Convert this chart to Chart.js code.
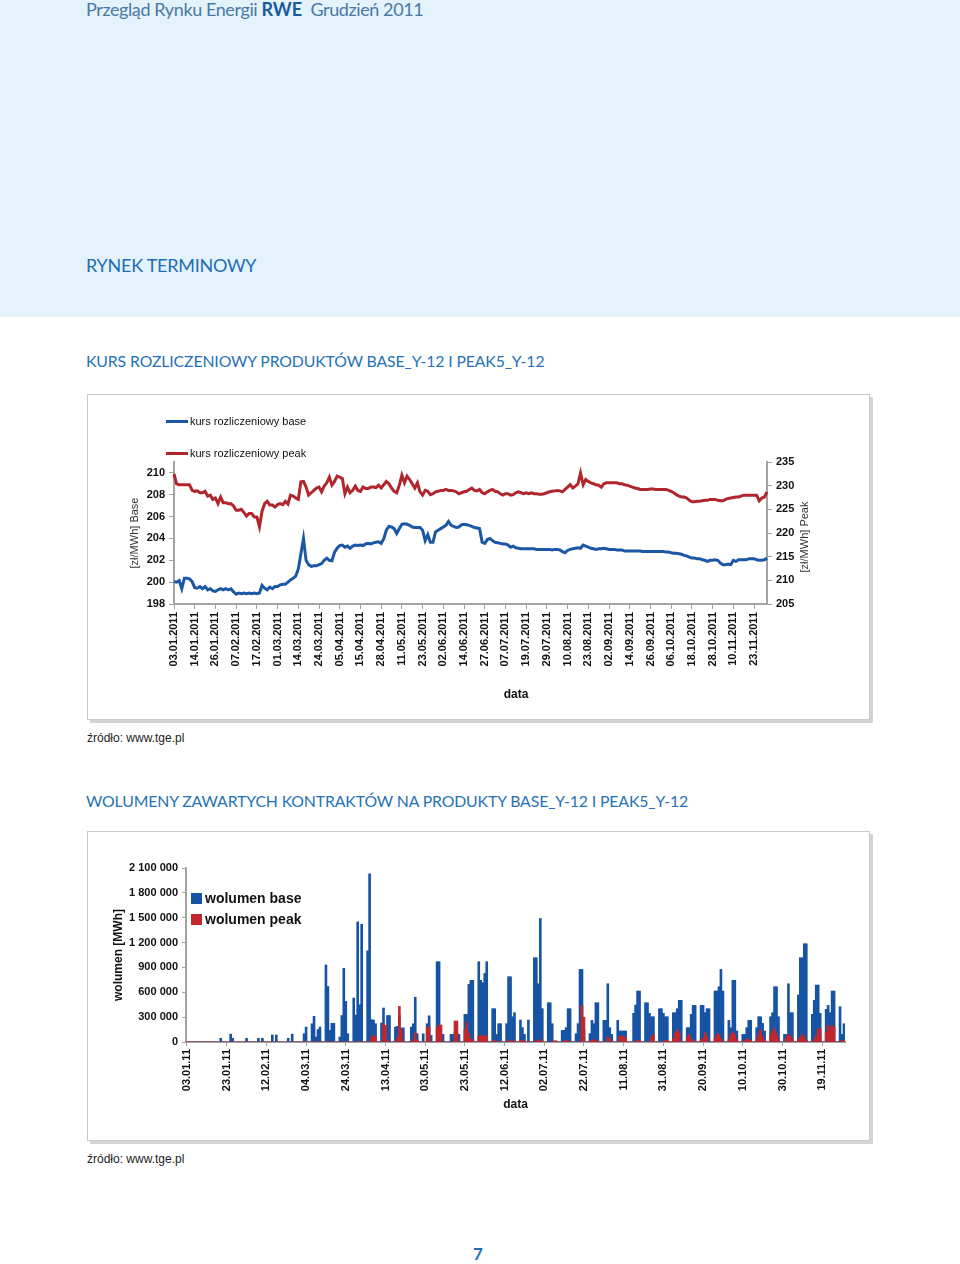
<!DOCTYPE html>
<html lang="pl">
<head>
<meta charset="utf-8">
<title>Przegląd Rynku Energii RWE - Grudzień 2011</title>
<script src="https://cdn.jsdelivr.net/npm/chart.js@4.4.1/dist/chart.umd.min.js"></script>
<style>
  html, body { margin: 0; padding: 0; }
  body { width: 960px; height: 1264px; position: relative; overflow: hidden; background: #fff;
         font-family: "Liberation Sans", Arial, sans-serif; }
  .band { position: absolute; left: 0; top: 0; width: 960px; height: 317px; background: #e3f2fb; }
  .hdr { position: absolute; left: 86px; top: 0px; font-family: Lato, sans-serif; font-size: 18px;
         line-height: 18px; letter-spacing: -0.4px; color: #4a79a5; white-space: nowrap; }
  .hdr b { color: #1a5a9c; font-weight: 700; letter-spacing: 0; }
  .h1 { position: absolute; left: 86px; top: 256px; font-family: Lato, sans-serif; font-size: 18px;
        line-height: 18px; letter-spacing: -0.25px; color: #1f6db4; white-space: nowrap; }
  .h2 { position: absolute; left: 86px; font-family: Lato, sans-serif; font-size: 15.8px;
        line-height: 16px; letter-spacing: -0.12px; color: #2572b8; white-space: nowrap; }
  .box { position: absolute; left: 87px; width: 781px; border: 1px solid #c9c9c9;
         box-shadow: 3px 3px 0 #d4d4d4; background: #fff; }
  .box canvas { display: block; }
  .src { position: absolute; left: 87px; font-size: 12px; line-height: 12px; color: #222; }
  .lg { position: absolute; font-size: 11px; line-height: 14px; color: #111; white-space: nowrap; }
  .lgline { position: absolute; width: 22px; height: 3px; }
  .lgbox { position: absolute; width: 11px; height: 11px; }
  .lg2 { position: absolute; font-size: 14px; line-height: 16px; font-weight: bold; color: #111; white-space: nowrap; }
  .pg { position: absolute; left: 473px; top: 1245px; font-family: Lato, sans-serif; font-size: 17px;
        line-height: 17px; font-weight: 700; color: #1f6db4; }
</style>
</head>
<body>
<div class="band"></div>
<div class="hdr">Przegląd Rynku Energii <b>RWE</b>&nbsp; Grudzień 2011</div>
<div class="h1">RYNEK TERMINOWY</div>

<div class="h2" style="top:353px">KURS ROZLICZENIOWY PRODUKTÓW BASE_Y-12 I PEAK5_Y-12</div>
<div class="box" style="top:394px;height:324px"><canvas id="kurs" width="781" height="324"></canvas></div>
<div class="lgline" style="left:166px;top:420px;background:#1b57a4"></div>
<div class="lg" style="left:190px;top:414px">kurs rozliczeniowy base</div>
<div class="lgline" style="left:166px;top:452px;background:#b0262c"></div>
<div class="lg" style="left:190px;top:446px">kurs rozliczeniowy peak</div>
<div class="src" style="top:732px">źródło: www.tge.pl</div>

<div class="h2" style="top:793px">WOLUMENY ZAWARTYCH KONTRAKTÓW NA PRODUKTY BASE_Y-12 I PEAK5_Y-12</div>
<div class="box" style="top:831px;height:308px"><canvas id="wolumen" width="781" height="308"></canvas></div>
<div class="lgbox" style="left:191px;top:893px;background:#1753a3"></div>
<div class="lg2" style="left:205px;top:890px">wolumen base</div>
<div class="lgbox" style="left:191px;top:914px;background:#c1272d"></div>
<div class="lg2" style="left:205px;top:911px">wolumen peak</div>
<div class="src" style="top:1153px">źródło: www.tge.pl</div>

<div class="pg">7</div>

<script>
// --- kurs rozliczeniowy (notowania dzienne) ---
const lineTickLabels = ['03.01.2011', '14.01.2011', '26.01.2011', '07.02.2011', '17.02.2011', '01.03.2011',
  '14.03.2011', '24.03.2011', '05.04.2011', '15.04.2011', '28.04.2011', '11.05.2011', '23.05.2011',
  '02.06.2011', '14.06.2011', '27.06.2011', '07.07.2011', '19.07.2011', '29.07.2011', '10.08.2011',
  '23.08.2011', '02.09.2011', '14.09.2011', '26.09.2011', '06.10.2011', '18.10.2011', '28.10.2011',
  '10.11.2011', '23.11.2011'];

// zł/MWh, lewa oś
const baseKurs = [
  200.05, 200.0, 200.15, 199.4, 200.35, 200.35, 200.3, 200.05, 199.5, 199.45,
  199.6, 199.4, 199.6, 199.3, 199.4, 199.2, 199.15, 199.3, 199.4, 199.3,
  199.4, 199.3, 199.4, 199.1, 198.9, 199.0, 198.95, 199.0, 198.95, 199.0,
  198.95, 199.0, 198.95, 199.0, 199.7, 199.45, 199.3, 199.55, 199.4, 199.6,
  199.6, 199.75, 199.8, 199.8, 200.0, 200.2, 200.35, 200.55, 201.2, 202.6,
  204.0, 202.0, 201.6, 201.45, 201.5, 201.5, 201.6, 201.7, 202.0, 202.2,
  202.0, 201.95, 202.75, 203.1, 203.35, 203.4, 203.2, 203.3, 203.1, 203.3,
  203.4, 203.35, 203.4, 203.35, 203.5, 203.55, 203.5, 203.6, 203.65, 203.7,
  203.55, 203.95, 204.75, 205.1, 205.05, 204.9, 204.45, 204.9, 205.3, 205.35,
  205.3, 205.2, 205.05, 205.0, 205.0, 205.0, 204.75, 203.8, 204.35, 203.65,
  203.65, 204.6, 204.75, 204.9, 205.05, 205.2, 205.55, 205.2, 205.1, 205.0,
  205.05, 205.25, 205.3, 205.25, 205.2, 205.1, 205.0, 204.95, 204.9, 203.65,
  203.55, 203.9, 204.0, 203.8, 203.65, 203.6, 203.55, 203.5, 203.5, 203.4,
  203.2, 203.3, 203.15, 203.1, 203.05, 203.05, 203.05, 203.05, 203.05, 203.05,
  203.0, 203.0, 203.0, 203.0, 203.0, 203.0, 202.95, 203.0, 203.0, 202.95,
  202.8, 202.7, 202.9, 203.0, 203.05, 203.1, 203.15, 203.1, 203.4, 203.3,
  203.2, 203.1, 203.05, 203.0, 203.05, 203.05, 203.1, 203.05, 203.0, 203.0,
  203.0, 202.95, 202.95, 202.95, 202.85, 202.85, 202.85, 202.85, 202.85, 202.85,
  202.85, 202.8, 202.8, 202.8, 202.8, 202.8, 202.8, 202.8, 202.8, 202.8,
  202.75, 202.75, 202.7, 202.65, 202.65, 202.6, 202.55, 202.45, 202.4, 202.3,
  202.2, 202.2, 202.15, 202.15, 202.05, 202.0, 201.9, 202.0, 202.0, 202.05,
  202.0, 201.75, 201.6, 201.6, 201.65, 201.6, 202.0, 201.9, 202.05, 202.05,
  202.05, 202.05, 202.15, 202.15, 202.15, 202.05, 202.0, 202.0, 202.05, 202.2
];

// zł/MWh, prawa oś
const peakKurs = [
  232.5, 230.4, 230.2, 230.2, 230.2, 230.2, 230.2, 229.0, 228.8, 228.9,
  228.5, 228.5, 228.8, 227.8, 228.0, 227.1, 227.4, 226.2, 227.6, 226.4,
  226.4, 226.2, 226.2, 225.7, 224.8, 224.8, 225.0, 224.3, 223.6, 224.1,
  224.1, 223.4, 223.4, 221.3, 224.6, 226.2, 226.7, 225.9, 225.9, 225.5,
  226.0, 226.2, 226.0, 226.7, 226.1, 228.0, 227.8, 227.4, 227.1, 230.8,
  230.9, 229.7, 228.0, 228.5, 229.0, 229.5, 229.7, 228.7, 229.9, 230.6,
  231.8, 230.1, 230.9, 232.0, 231.8, 231.5, 228.3, 229.7, 228.5, 229.0,
  229.9, 229.0, 228.8, 229.7, 229.4, 229.4, 229.7, 229.7, 229.6, 230.1,
  229.5, 230.2, 230.9, 230.4, 229.5, 228.8, 228.5, 230.1, 232.2, 230.6,
  232.0, 231.3, 230.4, 229.5, 230.6, 228.7, 228.0, 229.0, 228.8, 228.1,
  228.3, 228.7, 228.8, 229.0, 229.0, 229.2, 229.0, 229.0, 228.9, 228.7,
  228.3, 228.5, 228.7, 228.8, 229.2, 229.5, 229.0, 228.9, 229.2, 228.5,
  228.3, 228.7, 229.0, 229.2, 228.8, 228.7, 228.3, 228.0, 228.3, 228.3,
  228.0, 228.1, 228.5, 228.7, 228.5, 228.3, 228.5, 228.3, 228.5, 228.3,
  228.3, 228.2, 228.2, 228.3, 228.5, 228.7, 228.8, 228.9, 229.0, 228.9,
  228.7, 229.2, 229.7, 230.2, 229.5, 229.9, 230.4, 232.7, 230.2, 231.3,
  230.9, 230.6, 230.4, 230.2, 230.1, 229.7, 230.4, 230.6, 230.6, 230.6,
  230.6, 230.6, 230.4, 230.4, 230.2, 230.1, 229.9, 229.7, 229.5, 229.4,
  229.2, 229.2, 229.2, 229.2, 229.3, 229.3, 229.2, 229.2, 229.2, 229.2,
  229.2, 229.0, 228.8, 228.5, 228.1, 227.8, 227.6, 227.6, 227.4, 226.9,
  226.6, 226.6, 226.7, 226.7, 226.8, 226.9, 226.9, 227.1, 227.1, 227.1,
  226.9, 226.8, 226.8, 227.1, 227.3, 227.4, 227.5, 227.6, 227.6, 227.8,
  228.0, 228.0, 228.0, 228.0, 228.0, 228.0, 226.8, 227.4, 227.6, 228.7
];

// --- wolumeny (dni kalendarzowe od 03.01.11, weekendy = 0) ---
const barTickLabels = ['03.01.11', '23.01.11', '12.02.11', '04.03.11', '24.03.11', '13.04.11', '03.05.11',
  '23.05.11', '12.06.11', '02.07.11', '22.07.11', '11.08.11', '31.08.11', '20.09.11', '10.10.11',
  '30.10.11', '19.11.11'];

// tys. MWh, tydzień po tygodniu (pn-pt, sb, nd)
const baseVol = [
  0, 0, 0, 0, 0, 0, 0,
  0, 0, 0, 0, 0, 0, 0,
  0, 0, 0, 45, 0, 0, 0,
  0, 95, 45, 0, 0, 0, 0,
  0, 0, 45, 0, 0, 0, 0,
  0, 45, 0, 45, 0, 0, 0,
  0, 85, 0, 85, 0, 0, 0,
  0, 0, 45, 0, 95, 0, 0,
  0, 0, 0, 100, 180, 0, 0,
  220, 310, 60, 150, 180, 0, 0,
  930, 670, 140, 225, 225, 0, 0,
  60, 320, 890, 490, 100, 0, 0,
  530, 325, 1450, 450, 1420, 0, 0,
  1100, 2030, 270, 265, 220, 0, 0,
  230, 410, 50, 320, 320, 0, 0,
  180, 190, 320, 170, 170, 0, 0,
  0, 180, 220, 540, 100, 0, 0,
  100, 0, 220, 316, 80, 0, 0,
  969, 969, 92, 92, 0, 0, 0,
  92, 92, 113, 113, 92, 0, 0,
  334, 334, 695, 744, 744, 0, 0,
  969, 744, 716, 828, 969, 0, 0,
  402, 402, 92, 221, 221, 0, 0,
  221, 788, 788, 305, 354, 0, 0,
  265, 173, 92, 0, 265, 0, 0,
  1017, 1017, 703, 1490, 402, 0, 0,
  474, 474, 221, 0, 0, 0, 0,
  140, 140, 173, 402, 402, 0, 0,
  100, 221, 876, 876, 150, 0, 0,
  100, 261, 221, 474, 474, 0, 0,
  261, 261, 703, 173, 92, 0, 0,
  261, 133, 133, 133, 133, 0, 0,
  0, 346, 446, 615, 615, 0, 0,
  474, 474, 346, 305, 305, 0, 0,
  402, 402, 346, 305, 305, 0, 0,
  354, 354, 402, 503, 503, 0, 0,
  173, 173, 334, 442, 442, 0, 0,
  442, 442, 354, 402, 402, 0, 0,
  615, 615, 667, 876, 615, 0, 0,
  261, 173, 744, 744, 133, 0, 0,
  92, 92, 173, 261, 261, 0, 0,
  173, 305, 305, 225, 133, 0, 0,
  305, 354, 667, 667, 305, 0, 0,
  92, 92, 703, 354, 354, 0, 0,
  567, 1017, 1017, 1186, 1186, 0, 0,
  334, 503, 687, 687, 346, 0, 0,
  394, 442, 354, 615, 615, 0, 0,
  426, 92, 221
];

const peakVol = [
  0, 0, 0, 0, 0, 0, 0,
  0, 0, 0, 0, 0, 0, 0,
  0, 0, 0, 0, 0, 0, 0,
  0, 0, 0, 0, 0, 0, 0,
  0, 0, 0, 0, 0, 0, 0,
  0, 0, 0, 0, 0, 0, 0,
  0, 0, 0, 0, 0, 0, 0,
  0, 0, 0, 0, 0, 0, 0,
  0, 0, 0, 0, 0, 0, 0,
  0, 0, 0, 0, 0, 0, 0,
  0, 0, 0, 0, 0, 0, 0,
  0, 0, 0, 0, 0, 0, 0,
  0, 0, 0, 0, 0, 0, 0,
  0, 0, 60, 80, 60, 0, 0,
  0, 220, 200, 20, 0, 0, 0,
  0, 50, 430, 150, 0, 0, 0,
  0, 0, 30, 110, 20, 0, 0,
  0, 0, 180, 180, 0, 0, 0,
  173, 205, 205, 0, 0, 0, 0,
  0, 0, 253, 253, 0, 0, 0,
  150, 233, 100, 30, 30, 0, 0,
  70, 80, 70, 80, 70, 0, 0,
  10, 20, 0, 10, 0, 0, 0,
  0, 20, 10, 0, 20, 0, 0,
  20, 20, 10, 0, 10, 0, 0,
  10, 10, 20, 30, 10, 0, 0,
  0, 0, 0, 15, 15, 0, 0,
  0, 10, 20, 10, 0, 0, 0,
  0, 0, 0, 440, 300, 0, 0,
  10, 20, 30, 20, 10, 0, 0,
  0, 0, 60, 40, 0, 0, 0,
  0, 70, 70, 70, 40, 0, 0,
  0, 0, 0, 20, 20, 0, 0,
  0, 0, 0, 60, 90, 0, 0,
  0, 0, 0, 20, 20, 0, 0,
  40, 110, 145, 110, 0, 0, 0,
  60, 90, 40, 20, 0, 0, 0,
  30, 40, 113, 60, 0, 0, 0,
  50, 100, 90, 40, 0, 0, 0,
  30, 90, 120, 90, 30, 0, 0,
  0, 20, 40, 30, 20, 0, 0,
  30, 100, 145, 60, 20, 0, 0,
  80, 130, 160, 100, 30, 0, 0,
  0, 60, 90, 70, 40, 0, 0,
  30, 60, 92, 60, 20, 0, 0,
  0, 30, 80, 160, 160, 0, 0,
  120, 200, 170, 200, 180, 0, 0,
  0, 20, 20
];

// etykieta co 8 notowań / co 20 dni, reszta pusta
const lineCats = baseKurs.map((v, i) => (i % 8 === 0 && lineTickLabels[i / 8]) || '');
const barCats = baseVol.map((v, i) => (i % 20 === 0 && barTickLabels[i / 20]) || '');

Chart.defaults.font.family = '"Liberation Sans", Arial, sans-serif';
Chart.defaults.color = '#111';
Chart.defaults.animation = false;

const AXIS = '#a3a3a3';

function skipEmpty(val) {
  const l = this.getLabelForValue(val);
  return l ? l : null; // null = bez etykiety i bez kreski
}

function spaced(v) {
  return String(v).replace(/\B(?=(\d{3})+(?!\d))/g, ' ');
}

// tytuł prawej osi czytany od dołu + "data" przesunięte w prawo, jak w oryginale
const kursTitles = {
  id: 'kursTitles',
  afterDraw(chart) {
    const { ctx, chartArea } = chart;
    const sc = chart.scales.yPeak;
    ctx.save();
    ctx.fillStyle = '#333';
    ctx.textAlign = 'center';
    ctx.textBaseline = 'middle';
    ctx.translate(sc.left + 38, (chartArea.top + chartArea.bottom) / 2 + 4);
    ctx.rotate(-Math.PI / 2);
    ctx.font = '11px "Liberation Sans", Arial, sans-serif';
    ctx.fillText('[zł/MWh] Peak', 0, 0);
    ctx.restore();

    ctx.save();
    ctx.fillStyle = '#111';
    ctx.textAlign = 'center';
    ctx.textBaseline = 'middle';
    ctx.font = 'bold 12px "Liberation Sans", Arial, sans-serif';
    ctx.fillText('data', 428, 300);
    ctx.restore();
  }
};

const kursCtx = document.getElementById('kurs');
if (kursCtx) {
  new Chart(kursCtx, {
    type: 'line',
    data: {
      labels: lineCats,
      datasets: [{
        label: 'kurs rozliczeniowy base',
        data: baseKurs,
        yAxisID: 'yBase',
        borderColor: '#1b57a4',
        borderWidth: 3,
        pointRadius: 0,
        tension: 0
      }, {
        label: 'kurs rozliczeniowy peak',
        data: peakKurs,
        yAxisID: 'yPeak',
        borderColor: '#b0262c',
        borderWidth: 3,
        pointRadius: 0,
        tension: 0
      }]
    },
    options: {
      responsive: false,
      layout: { padding: { top: 67, left: 0, right: 0, bottom: 0 } },
      plugins: { legend: { display: false }, tooltip: { enabled: false } },
      scales: {
        x: {
          grid: { drawOnChartArea: false, color: AXIS, tickLength: 5 },
          border: { color: AXIS, width: 2 },
          ticks: { autoSkip: false, minRotation: 90, maxRotation: 90, padding: 3,
                   font: { size: 11, weight: 'bold' }, callback: skipEmpty },
          afterFit: s => { s.height = 115; }
        },
        yBase: {
          position: 'left',
          min: 198,
          max: 211,
          grid: { drawOnChartArea: false, color: AXIS, tickLength: 5 },
          border: { color: AXIS, width: 2 },
          ticks: { stepSize: 2, includeBounds: false, padding: 4, font: { size: 11, weight: 'bold' } },
          title: { display: true, text: '[zł/MWh] Base', color: '#333', font: { size: 11 },
                   padding: { top: 40, bottom: 0 } },
          afterFit: s => { s.width = 86; }
        },
        yPeak: {
          position: 'right',
          min: 205,
          max: 235,
          grid: { drawOnChartArea: false, color: AXIS, tickLength: 5 },
          border: { color: AXIS, width: 2 },
          ticks: { stepSize: 5, padding: 4, font: { size: 11, weight: 'bold' } },
          afterFit: s => { s.width = 102; }
        }
      }
    },
    plugins: [kursTitles]
  });
}

const wolCtx = document.getElementById('wolumen');
if (wolCtx) {
  new Chart(wolCtx, {
    type: 'bar',
    data: {
      labels: barCats,
      datasets: [{
        label: 'wolumen base',
        data: baseVol.map(v => v * 1000),
        backgroundColor: '#1753a3',
        order: 2,
        grouped: false,
        barPercentage: 1,
        categoryPercentage: 1
      }, {
        label: 'wolumen peak',
        data: peakVol.map(v => v * 1000),
        backgroundColor: '#c1272d',
        order: 1, // czerwone na wierzchu
        grouped: false,
        barPercentage: 1,
        categoryPercentage: 1
      }]
    },
    options: {
      responsive: false,
      layout: { padding: { top: 36, left: 0, right: 24, bottom: 0 } },
      plugins: { legend: { display: false }, tooltip: { enabled: false } },
      scales: {
        x: {
          offset: true,
          grid: { offset: false, drawOnChartArea: false, color: AXIS, tickLength: 4 },
          border: { color: AXIS, width: 2 },
          ticks: { autoSkip: false, minRotation: 90, maxRotation: 90, padding: 3,
                   font: { size: 11, weight: 'bold' }, callback: skipEmpty },
          title: { display: true, text: 'data', font: { size: 12, weight: 'bold' },
                   padding: { top: 0, bottom: 28 } },
          afterFit: s => { s.height = 98; }
        },
        y: {
          min: 0,
          max: 2100000,
          grid: { drawOnChartArea: false, color: AXIS, tickLength: 4 },
          border: { color: AXIS, width: 2 },
          ticks: { stepSize: 300000, padding: 4, font: { size: 11, weight: 'bold' }, callback: v => spaced(v) },
          title: { display: true, text: 'wolumen [MWh]', font: { size: 12, weight: 'bold' },
                   padding: { top: 23, bottom: 0 } },
          afterFit: s => { s.width = 98; }
        }
      }
    }
  });
}
</script>
</body>
</html>
